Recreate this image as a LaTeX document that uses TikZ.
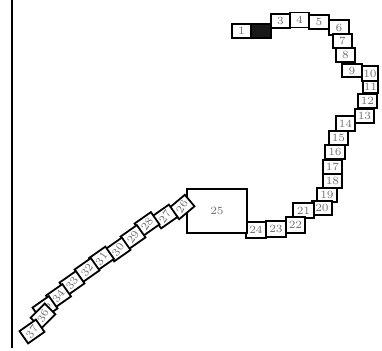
\documentclass[tikz,border=0pt]{standalone}
\begin{document}
\begin{tikzpicture}[x=0.5pt,y=-0.5pt,
  bx/.style={draw, line width=0.9pt, fill=white, inner sep=0pt, text=black!55,
    font=\fontsize{5.5}{5.5}\selectfont},
  rb/.style={bx, rotate=35, minimum width=10pt, minimum height=7.5pt}]
\useasboundingbox (0,0) rectangle (382,350);
\newcommand\bxn[5]{\node[bx, minimum width=#3*0.5pt, minimum height=#4*0.5pt] (b#1) at (#2) {#5};}
\newcommand\rl[1]{\rotatebox{20}{#1}}
\draw[line width=0.9pt] (12,0) -- (12,348);
\bxn{1}{241.5,31}{19}{14}{1}
\node[bx, fill=black!90, minimum width=10pt, minimum height=7pt] (b2) at (261,31) {};
\bxn{3}{280.5,21}{19}{14}{3}
\bxn{4}{299.5,20}{19}{15}{4}
\bxn{5}{319,22}{20}{14}{5}
\bxn{6}{339,27.5}{20}{15}{6}
\bxn{7}{342.5,41}{19}{14}{7}
\bxn{8}{345.5,55}{19}{14}{8}
\bxn{9}{352,70.5}{20}{13}{9}
\bxn{10}{370,73.5}{16}{15}{10}
\bxn{11}{370.5,87}{15}{12}{11}
\bxn{12}{367.5,101}{19}{14}{12}
\bxn{13}{364.5,116}{19}{14}{13}
\bxn{14}{345.5,123.5}{19}{15}{14}
\bxn{15}{338.5,138}{19}{14}{15}
\bxn{16}{335,152}{20}{14}{16}
\bxn{17}{332.5,167}{19}{14}{17}
\bxn{18}{332.5,181}{19}{14}{18}
\bxn{19}{327,195}{20}{14}{19}
\bxn{20}{322,208}{20}{14}{20}
\bxn{21}{303.5,210.5}{21}{15}{21}
\bxn{22}{295.5,225}{19}{16}{22}
\bxn{23}{276,229}{20}{16}{23}
\bxn{24}{256,230}{20}{16}{24}
\bxn{25}{217,211}{60}{44}{25}
\node[rb, rotate=5] (b26) at (182,207) {\rl{26}};
\node[rb] (b27) at (165,216.5) {\rl{27}};
\node[rb] (b28) at (147,224) {\rl{28}};
\node[rb] (b29) at (133,237) {\rl{29}};
\node[rb] (b30) at (118,249.5) {\rl{30}};
\node[rb] (b31) at (101.5,258.5) {\rl{31}};
\node[rb] (b32) at (87,270) {\rl{32}};
\node[rb] (b33) at (72,283) {\rl{33}};
\node[rb] (b34) at (58.5,296) {\rl{34}};
\node[rb] (b35) at (45,308) {\rl{35}};
\node[rb, rotate=10] (b36) at (43,316) {\rl{36}};
\node[rb] (b37) at (32,331.5) {\rl{37}};
\end{tikzpicture}
\end{document}
